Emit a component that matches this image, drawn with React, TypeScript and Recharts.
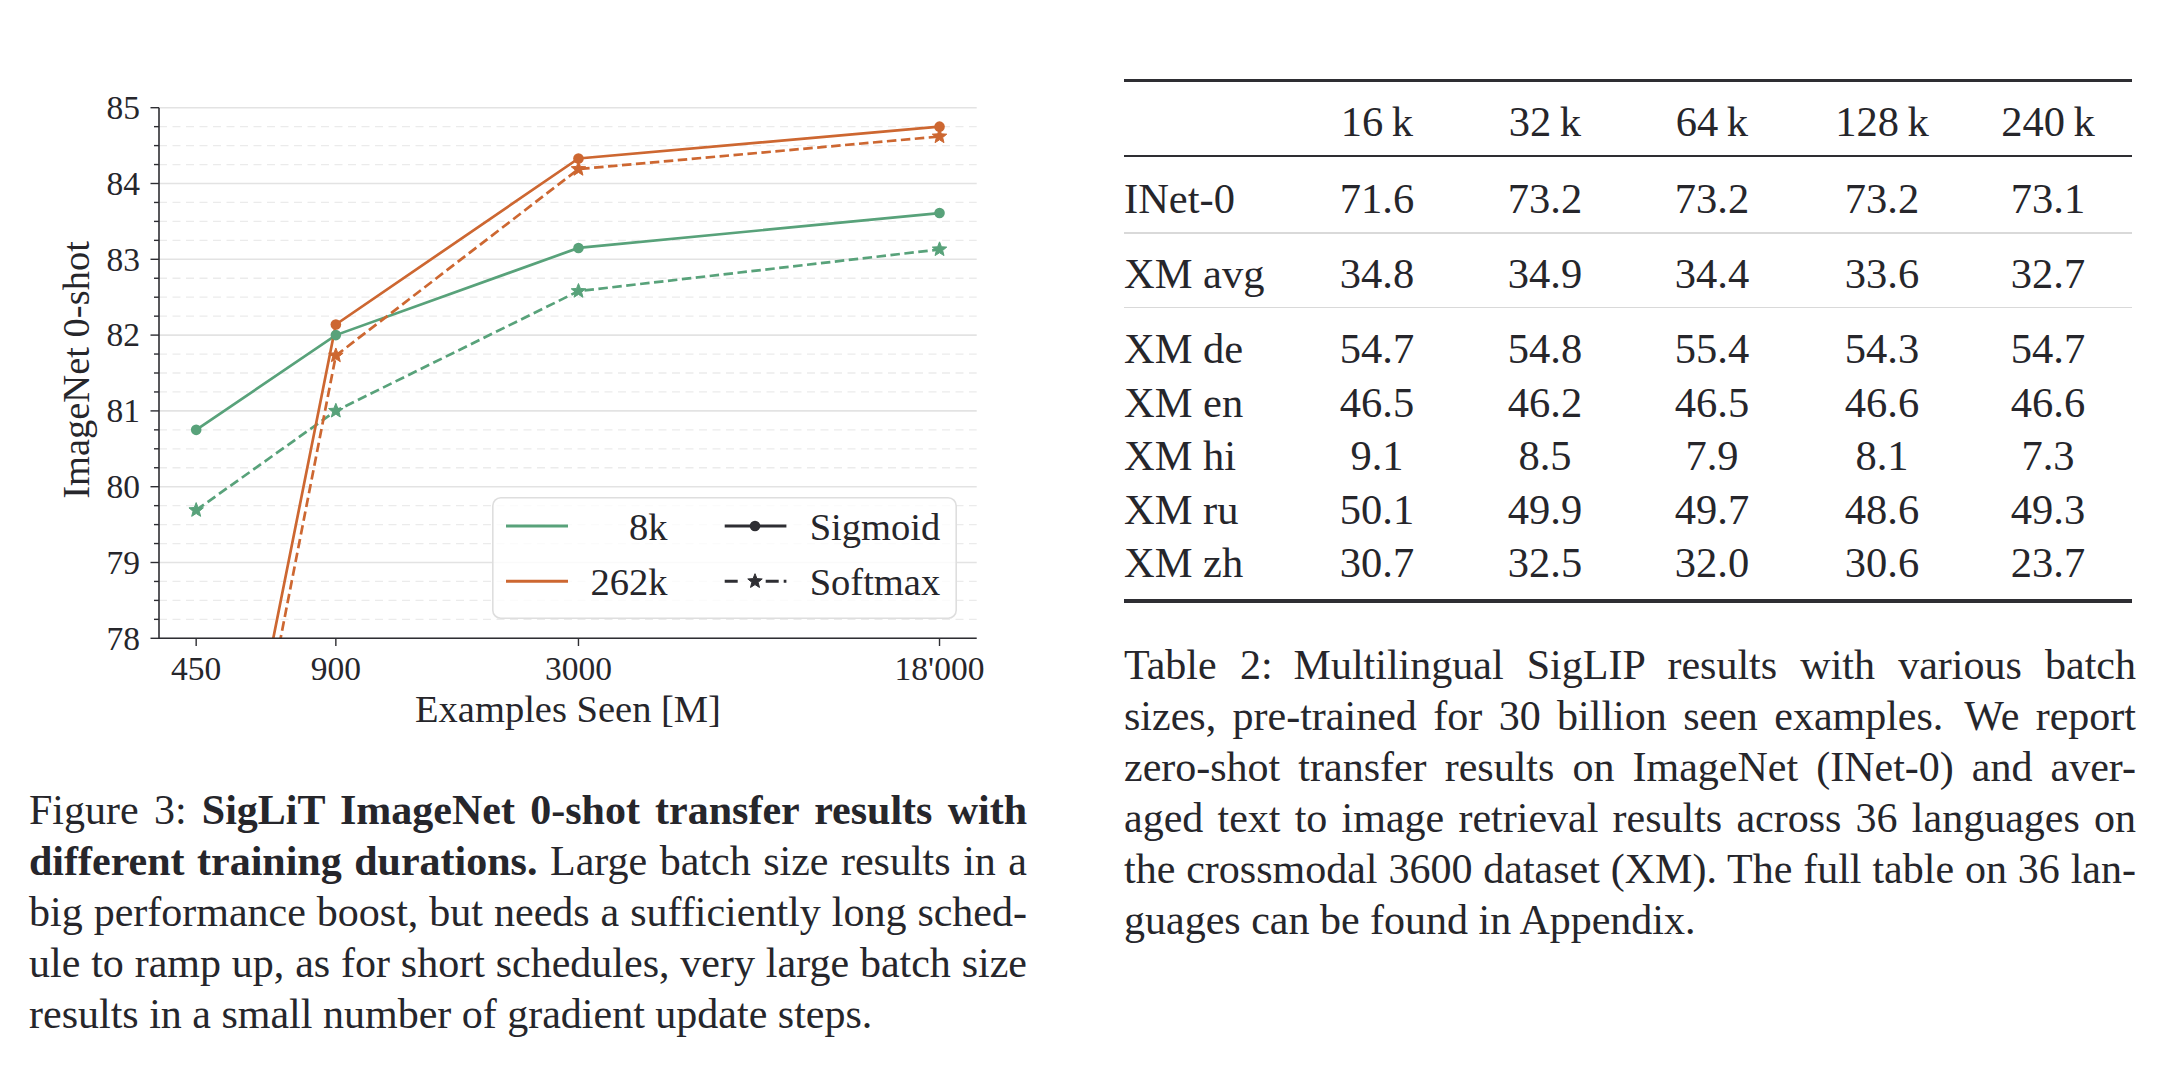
import {
  CartesianGrid,
  Legend,
  Line,
  LineChart,
  XAxis,
  YAxis,
} from "recharts";

const SERIF = '"Liberation Serif", "Times New Roman", Times, serif';
const INK = "#26262b";
const AXIS = "#2e2e33";
const GREEN = "#58a27a";
const ORANGE = "#cd6731";

// SigLiT: ImageNet 0-shot vs examples seen (log x axis)
const EXAMPLES_SEEN = [450, 900, 3000, 18000];
const X_TICK_LABELS = ["450", "900", "3000", "18'000"];
const SIGMOID_8K = [80.75, 82.0, 83.15, 83.61];
const SOFTMAX_8K = [79.69, 81.0, 82.58, 83.13];
const SIGMOID_262K = [72.9, 82.14, 84.33, 84.75];
const SOFTMAX_262K = [72.3, 81.73, 84.19, 84.62];

const Y_MAJOR = [78, 79, 80, 81, 82, 83, 84, 85];
const Y_MINOR = [
  78.25, 78.5, 78.75, 79.25, 79.5, 79.75, 80.25, 80.5, 80.75, 81.25, 81.5,
  81.75, 82.25, 82.5, 82.75, 83.25, 83.5, 83.75, 84.25, 84.5, 84.75,
];

// Table 2: multilingual SigLIP
const BATCH_SIZES = ["16\u2009k", "32\u2009k", "64\u2009k", "128\u2009k", "240\u2009k"];
const ROW_LABELS = ["INet-0", "XM avg", "XM de", "XM en", "XM hi", "XM ru", "XM zh"];
const INET0 = ["71.6", "73.2", "73.2", "73.2", "73.1"];
const XM_AVG = ["34.8", "34.9", "34.4", "33.6", "32.7"];
const XM_DE = ["54.7", "54.8", "55.4", "54.3", "54.7"];
const XM_EN = ["46.5", "46.2", "46.5", "46.6", "46.6"];
const XM_HI = ["9.1", "8.5", "7.9", "8.1", "7.3"];
const XM_RU = ["50.1", "49.9", "49.7", "48.6", "49.3"];
const XM_ZH = ["30.7", "32.5", "32.0", "30.6", "23.7"];

const FIG_CAPTION_LINES = [
  "big performance boost, but needs a sufficiently long sched-",
  "ule to ramp up, as for short schedules, very large batch size",
];
const TABLE_CAPTION_LINES = [
  "Table 2:\u2002Multilingual SigLIP results with various batch",
  "sizes, pre-trained for 30 billion seen examples.\u2002We report",
  "zero-shot transfer results on ImageNet (INet-0) and aver-",
  "aged text to image retrieval results across 36 languages on",
  "the crossmodal 3600 dataset (XM). The full table on 36 lan-",
  "guages can be found in Appendix.",
];

const rows = EXAMPLES_SEEN.map((x, i) => ({
  x,
  s8: SIGMOID_8K[i],
  f8: SOFTMAX_8K[i],
  s262: SIGMOID_262K[i],
  f262: SOFTMAX_262K[i],
}));

function starPath(cx: number, cy: number, R: number, r: number): string {
  const pts: string[] = [];
  for (let k = 0; k < 10; k++) {
    const rad = k % 2 === 0 ? R : r;
    const a = -Math.PI / 2 + (k * Math.PI) / 5;
    pts.push(`${(cx + rad * Math.cos(a)).toFixed(2)},${(cy + rad * Math.sin(a)).toFixed(2)}`);
  }
  return `M${pts.join("L")}Z`;
}

const circleDot = (color: string, id: string) => (p: any) => (
  <circle key={`${id}-${p.index}`} cx={p.cx} cy={p.cy} r={5.3} fill={color} />
);

const starDot = (color: string, id: string) => (p: any) => (
  <path
    key={`${id}-${p.index}`}
    d={starPath(p.cx, p.cy, 7.6, 3.3)}
    fill={color}
    stroke={color}
    strokeWidth={1}
    strokeLinejoin="round"
  />
);

const TICK_SIZE = 8.5;
const TICK_MARGIN = 10.5;

function YTick(props: any) {
  const { x, y, payload } = props;
  const major = Y_MAJOR.includes(payload.value);
  const end = x + TICK_MARGIN + TICK_SIZE;
  return (
    <g>
      <line
        x1={major ? x + TICK_MARGIN : end - 5}
        x2={end}
        y1={y}
        y2={y}
        stroke={AXIS}
        strokeWidth={1.4}
      />
      {major && (
        <text
          x={x}
          y={y}
          dy="0.34em"
          textAnchor="end"
          fill={INK}
          fontSize={33.5}
          fontFamily={SERIF}
        >
          {payload.value}
        </text>
      )}
    </g>
  );
}

function LegendBox() {
  return (
    <svg width={465} height={122} style={{ display: "block" }}>
      <rect
        x={0.8}
        y={0.8}
        width={463.4}
        height={120.4}
        rx={8}
        fill="#ffffff"
        fillOpacity={0.8}
        stroke="#dedede"
        strokeWidth={1.6}
      />
      <line x1={14} x2={76} y1={29} y2={29} stroke={GREEN} strokeWidth={3} />
      <line x1={14} x2={76} y1={84.3} y2={84.3} stroke={ORANGE} strokeWidth={3} />
      <g fontFamily={SERIF} fontSize={38.5} fill={INK}>
        <text x={175.5} y={42.6} textAnchor="end">8k</text>
        <text x={175.5} y={98.3} textAnchor="end">262k</text>
        <text x={317.7} y={42.6}>Sigmoid</text>
        <text x={317.7} y={98.3}>Softmax</text>
      </g>
      <line x1={232.7} x2={294.4} y1={29} y2={29} stroke={AXIS} strokeWidth={3} />
      <circle cx={263} cy={29} r={5.3} fill={AXIS} />
      <line
        x1={232.7}
        x2={294.4}
        y1={84.3}
        y2={84.3}
        stroke={AXIS}
        strokeWidth={3}
        strokeDasharray="13 28 13 5 3"
      />
      <path d={starPath(263, 84.3, 7.6, 3.3)} fill={AXIS} stroke={AXIS} strokeWidth={1} />
    </svg>
  );
}

function SigLiTChart() {
  return (
    <LineChart
      width={1000}
      height={760}
      data={rows}
      margin={{ top: 107.7, right: 23.3, bottom: 41.7, left: 0 }}
    >
      <CartesianGrid
        vertical={false}
        horizontalValues={Y_MINOR}
        stroke="#ebebeb"
        strokeWidth={1.3}
        strokeDasharray="8 5.5"
      />
      <CartesianGrid
        vertical={false}
        horizontalValues={Y_MAJOR}
        stroke="#e3e3e3"
        strokeWidth={1.6}
      />
      <XAxis
        dataKey="x"
        type="number"
        scale="log"
        domain={[374.2, 21647]}
        allowDataOverflow
        ticks={EXAMPLES_SEEN}
        interval={0}
        tickFormatter={(v: number) => X_TICK_LABELS[EXAMPLES_SEEN.indexOf(v)] ?? String(v)}
        height={80}
        tickSize={7.7}
        tickMargin={10}
        tick={{ fontSize: 33.5, fill: INK, fontFamily: SERIF }}
        axisLine={{ stroke: AXIS, strokeWidth: 1.6 }}
        tickLine={{ stroke: AXIS, strokeWidth: 1.4 }}
        label={{
          content: () => (
            <text
              x={568}
              y={721.7}
              textAnchor="middle"
              fill={INK}
              fontSize={38.5}
              fontFamily={SERIF}
            >
              Examples Seen [M]
            </text>
          ),
        }}
      />
      <YAxis
        type="number"
        domain={[78, 85]}
        allowDataOverflow
        ticks={[...Y_MAJOR, ...Y_MINOR].sort((a, b) => a - b)}
        interval={0}
        width={159}
        tickSize={TICK_SIZE}
        tickMargin={TICK_MARGIN}
        tickLine={false}
        tick={<YTick />}
        axisLine={{ stroke: AXIS, strokeWidth: 1.6 }}
        label={{
          content: () => (
            <text
              x={89}
              y={370}
              transform="rotate(-90 89 370)"
              textAnchor="middle"
              fill={INK}
              fontSize={38.5}
              fontFamily={SERIF}
            >
              ImageNet 0-shot
            </text>
          ),
        }}
      />
      <Legend
        layout="vertical"
        align="center"
        verticalAlign="middle"
        content={() => <LegendBox />}
        wrapperStyle={{ left: 492, top: 497, width: 465, height: 122 }}
      />
      <Line
        dataKey="s8"
        stroke={GREEN}
        strokeWidth={2.7}
        dot={circleDot(GREEN, "s8")}
        activeDot={false}
        isAnimationActive={false}
      />
      <Line
        dataKey="f8"
        stroke={GREEN}
        strokeWidth={2.7}
        strokeDasharray="9.5 4.5"
        dot={starDot(GREEN, "f8")}
        activeDot={false}
        isAnimationActive={false}
      />
      <Line
        dataKey="s262"
        stroke={ORANGE}
        strokeWidth={2.7}
        dot={circleDot(ORANGE, "s262")}
        activeDot={false}
        isAnimationActive={false}
      />
      <Line
        dataKey="f262"
        stroke={ORANGE}
        strokeWidth={2.7}
        strokeDasharray="9.5 4.5"
        dot={starDot(ORANGE, "f262")}
        activeDot={false}
        isAnimationActive={false}
      />
    </LineChart>
  );
}

const TABLE_LEFT = 1124;
const TABLE_RIGHT = 2132;
const COL_CENTERS = [1377, 1545, 1712, 1882, 2048];
const HEADER_BASELINE = 136.8;
const ROW_BASELINES = [213.6, 288.6, 363.6, 417.2, 470.8, 524.4, 578];
const TABLE_FONT = 42.5;

function Cell({ x, base, align, children }: any) {
  const top = base - 0.8375 * TABLE_FONT;
  const style: any = {
    position: "absolute",
    top,
    fontSize: TABLE_FONT,
    lineHeight: 1,
    whiteSpace: "nowrap",
  };
  if (align === "left") {
    style.left = x;
  } else {
    style.left = x - 100;
    style.width = 200;
    style.textAlign = "center";
  }
  return <div style={style}>{children}</div>;
}

function Rule({ y, h, color }: { y: number; h: number; color: string }) {
  return (
    <div
      style={{
        position: "absolute",
        left: TABLE_LEFT,
        top: y - h / 2,
        width: TABLE_RIGHT - TABLE_LEFT,
        height: h,
        background: color,
      }}
    />
  );
}

function ResultsTable() {
  const values = [INET0, XM_AVG, XM_DE, XM_EN, XM_HI, XM_RU, XM_ZH];
  return (
    <>
      <Rule y={80.4} h={3.4} color={AXIS} />
      <Rule y={156.4} h={2.2} color={AXIS} />
      <Rule y={233.2} h={1.8} color="#d9d9d9" />
      <Rule y={307.5} h={1.8} color="#d9d9d9" />
      <Rule y={601} h={3.4} color={AXIS} />
      {BATCH_SIZES.map((b, j) => (
        <Cell key={b} x={COL_CENTERS[j]} base={HEADER_BASELINE}>
          {b}
        </Cell>
      ))}
      {ROW_LABELS.map((label, i) => (
        <div key={label}>
          <Cell x={TABLE_LEFT} base={ROW_BASELINES[i]} align="left">
            {label}
          </Cell>
          {values[i].map((v, j) => (
            <Cell key={j} x={COL_CENTERS[j]} base={ROW_BASELINES[i]}>
              {v}
            </Cell>
          ))}
        </div>
      ))}
    </>
  );
}

const justified: any = { textAlign: "justify", textAlignLast: "justify" };

export default function App() {
  return (
    <div
      style={{
        position: "absolute",
        left: 0,
        top: 0,
        width: 2172,
        height: 1066,
        background: "#ffffff",
        fontFamily: SERIF,
        color: INK,
        overflow: "hidden",
      }}
    >
      <div style={{ position: "absolute", left: 0, top: 0 }}>
        <SigLiTChart />
      </div>

      <div
        style={{
          position: "absolute",
          left: 29,
          top: 785.3,
          width: 998,
          fontSize: 42,
          lineHeight: "51px",
        }}
      >
        <div style={justified}>
          Figure 3: <b>SigLiT ImageNet 0-shot transfer results with</b>
        </div>
        <div style={justified}>
          <b>different training durations.</b> Large batch size results in a
        </div>
        {FIG_CAPTION_LINES.map((l) => (
          <div key={l} style={justified}>
            {l}
          </div>
        ))}
        <div>results in a small number of gradient update steps.</div>
      </div>

      <ResultsTable />

      <div
        style={{
          position: "absolute",
          left: 1124,
          top: 640.3,
          width: 1012,
          fontSize: 42,
          lineHeight: "51px",
        }}
      >
        {TABLE_CAPTION_LINES.map((l, i) => (
          <div key={l} style={i < TABLE_CAPTION_LINES.length - 1 ? justified : undefined}>
            {l}
          </div>
        ))}
      </div>
    </div>
  );
}
